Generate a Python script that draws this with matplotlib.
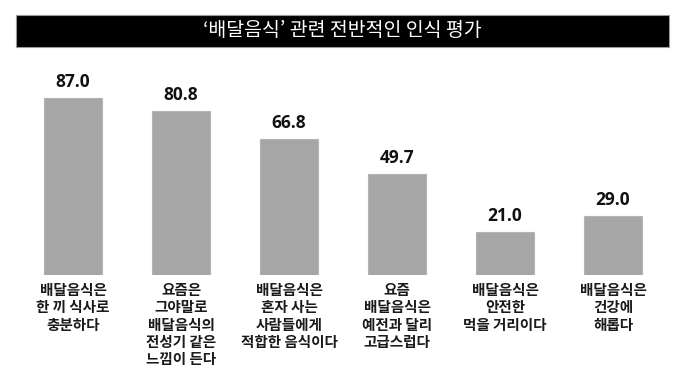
import matplotlib
matplotlib.use("Agg")
import matplotlib.pyplot as plt
from matplotlib.patches import Rectangle

plt.rcParams['font.family'] = ['Noto Sans CJK KR', 'DejaVu Sans']

title = "‘배달음식’ 관련 전반적인 인식 평가"
categories = [
    "배달음식은\n한 끼 식사로\n충분하다",
    "요즘은\n그야말로\n배달음식의\n전성기 같은\n느낌이 든다",
    "배달음식은\n혼자 사는\n사람들에게\n적합한 음식이다",
    "요즘\n배달음식은\n예전과 달리\n고급스럽다",
    "배달음식은\n안전한\n먹을 거리이다",
    "배달음식은\n건강에\n해롭다",
]
values = [87.0, 80.8, 66.8, 49.7, 21.0, 29.0]

W, H = 678, 371
fig = plt.figure(figsize=(W / 100, H / 100), dpi=100)

# axes: bottom at pixel 275, top at pixel 60
bottom_px, top_px = 275, 60
ax = fig.add_axes([0, (H - bottom_px) / H, 1, (bottom_px - top_px) / H])
x = list(range(len(values)))
ax.bar(x, values, width=0.53, color='#a6a6a6', edgecolor='#b4b4b4', linewidth=0.8)
ax.set_xlim(-73 / 108, (W - 73) / 108)
ax.set_ylim(0, (bottom_px - top_px) / 2.034)
ax.axis('off')

for xi, v in zip(x, values):
    ax.annotate(f"{v:.1f}", (xi, v), xytext=(0, 5), textcoords='offset points',
                ha='center', va='bottom', fontsize=12.5, fontweight='bold',
                family=['Open Sans', 'DejaVu Sans'], color='#111111')

for xi, c in zip(x, categories):
    ax.annotate(c, (xi, 0), xytext=(0, -5), textcoords='offset points',
                ha='center', va='top', fontsize=10.5, fontweight='bold',
                linespacing=1.1, color='#1a1a1a')

# title box
fig.patches.append(Rectangle((16 / W, 1 - 47 / H), (669 - 16) / W, 32 / H,
                             transform=fig.transFigure, facecolor='black',
                             edgecolor='#999999', linewidth=0.8))
fig.text(342 / W, 1 - 31 / H, title, ha='center', va='center', color='white',
         fontsize=14)

fig.savefig('out.png', dpi=100)
